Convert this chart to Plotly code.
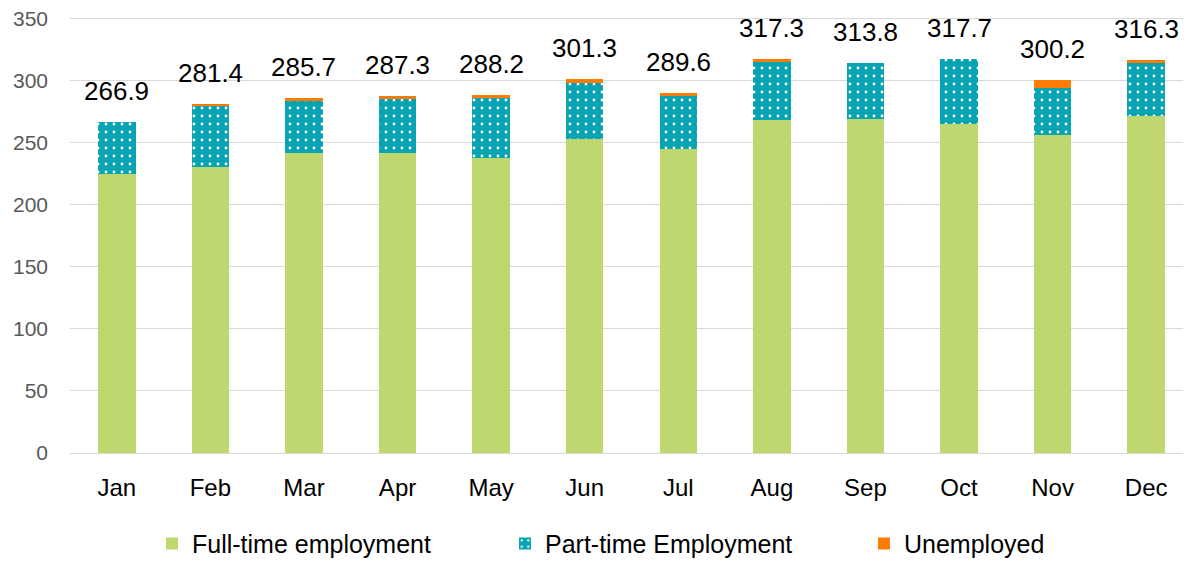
import plotly.graph_objects as go

months = ["Jan", "Feb", "Mar", "Apr", "May", "Jun", "Jul", "Aug", "Sep", "Oct", "Nov", "Dec"]
full_time = [224.9, 230.0, 242.0, 241.5, 238.0, 253.0, 244.5, 268.5, 269.0, 264.8, 256.0, 271.5]
part_time = [42.0, 49.5, 41.5, 44.3, 48.0, 45.0, 43.0, 46.8, 44.8, 52.9, 38.0, 42.3]
unemployed = [0.0, 1.9, 2.2, 1.5, 2.2, 3.3, 2.1, 2.0, 0.0, 0.0, 6.2, 2.5]
totals = [266.9, 281.4, 285.7, 287.3, 288.2, 301.3, 289.6, 317.3, 313.8, 317.7, 300.2, 316.3]
total_labels = [f"{v:.1f}" for v in totals]

GREEN = "#BFD76F"
TEAL = "#06A3B3"
ORANGE = "#FB7D05"
FONT = "Liberation Sans"

fig = go.Figure()
fig.add_trace(go.Bar(x=months, y=full_time, name="Full-time employment", legend="legend",
                     marker=dict(color=GREEN, line=dict(width=0))))
fig.add_trace(go.Bar(x=months, y=part_time, name="Part-time Employment", legend="legend2",
                     marker=dict(color=TEAL, line=dict(width=0),
                                 pattern=dict(shape=".", fgcolor="white", bgcolor=TEAL,
                                              size=8, solidity=0.1, fillmode="replace"))))
fig.add_trace(go.Bar(x=months, y=unemployed, name="Unemployed", legend="legend3",
                     marker=dict(color=ORANGE, line=dict(width=0))))

for m, t, lab in zip(months, totals, total_labels):
    fig.add_annotation(x=m, y=t, text=lab, showarrow=False, yanchor="bottom", yshift=14,
                       font=dict(size=26, color="#000000", family=FONT))

leg_common = dict(orientation="h", yanchor="middle", y=-0.205, xanchor="left",
                  font=dict(size=25, color="#000000", family=FONT), itemwidth=30,
                  bgcolor="rgba(0,0,0,0)", visible=True)

PL, PW = 70, 1123
fig.update_layout(
    barmode="stack",
    bargap=0.6,
    width=1191, height=564,
    margin=dict(l=62, r=6, t=8, b=118),
    plot_bgcolor="white", paper_bgcolor="white",
    font=dict(family=FONT, color="#000000"),
    showlegend=True,
    legend=dict(x=(171 - 19 - PL) / PW, **leg_common),
    legend2=dict(x=(524 - 19 - PL) / PW, **leg_common),
    legend3=dict(x=(883 - 19 - PL) / PW, **leg_common),
    xaxis=dict(showgrid=False, showline=False, ticks="", automargin=False,
               tickfont=dict(size=24, color="#000000"), ticklabelstandoff=18),
    yaxis=dict(range=[0, 352], tickvals=[0, 50, 100, 150, 200, 250, 300, 350],
               showgrid=True, gridcolor="#D9D9D9", gridwidth=1.3,
               zeroline=True, zerolinecolor="#D9D9D9", zerolinewidth=1.3, automargin=False,
               tickfont=dict(size=21, color="#595959"), ticklabelstandoff=21,
               ticklabeloverflow="allow", showline=False, ticks=""),
)

fig.write_html("out.html")
